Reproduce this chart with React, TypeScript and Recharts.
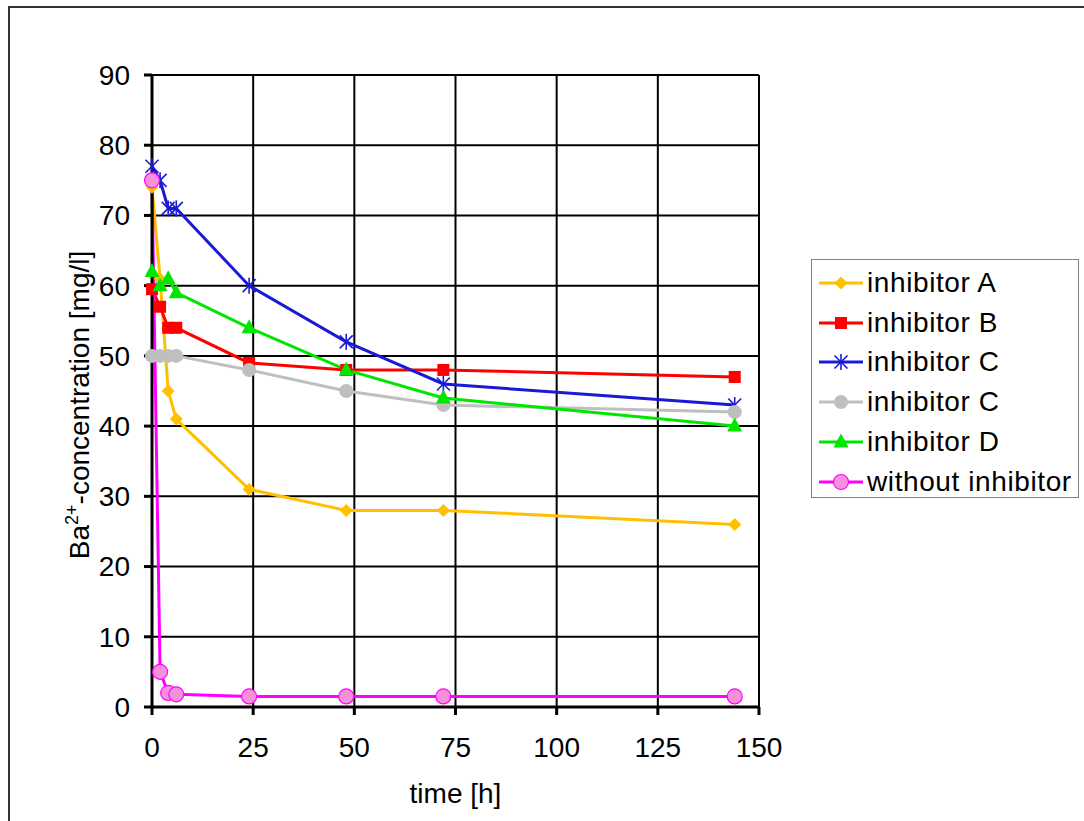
import React from "react";
import { CartesianGrid, Legend, Line, LineChart, XAxis, YAxis } from "recharts";

// Zeitpunkte [h] und Ba2+-Konzentrationen [mg/l] je Serie
const times = [0, 2, 4, 6, 24, 48, 72, 144];
const inhibitorA = [74, 61, 45, 41, 31, 28, 28, 26];
const inhibitorB = [59.5, 57, 54, 54, 49, 48, 48, 47];
const inhibitorC1 = [77, 75, 71, 71, 60, 52, 46, 43];
const inhibitorC2 = [50, 50, 50, 50, 48, 45, 43, 42];
const inhibitorD = [62, 60, 61, 59, 54, 48, 44, 40];
const withoutInhibitor = [75, 5, 2, 1.8, 1.5, 1.5, 1.5, 1.5];

const xTicks = [0, 25, 50, 75, 100, 125, 150];
const yTicks = [0, 10, 20, 30, 40, 50, 60, 70, 80, 90];

const data = times.map((t, i) => ({
  t,
  a: inhibitorA[i],
  b: inhibitorB[i],
  c1: inhibitorC1[i],
  c2: inhibitorC2[i],
  d: inhibitorD[i],
  w: withoutInhibitor[i],
}));

type Mark = "diamond" | "square" | "star" | "circle" | "triangle" | "pink";

const series: { key: string; name: string; color: string; mark: Mark }[] = [
  { key: "a", name: "inhibitor A", color: "#FFC000", mark: "diamond" },
  { key: "b", name: "inhibitor B", color: "#FF0000", mark: "square" },
  { key: "c1", name: "inhibitor C", color: "#1A1AD6", mark: "star" },
  { key: "c2", name: "inhibitor C", color: "#BFBFBF", mark: "circle" },
  { key: "d", name: "inhibitor D", color: "#00E600", mark: "triangle" },
  { key: "w", name: "without inhibitor", color: "#FF00FF", mark: "pink" },
];

const FONT = "'Liberation Sans', Arial, sans-serif";
const FS = 28;

function Marker({ mark, color, x, y }: { mark: Mark; color: string; x: number; y: number }) {
  switch (mark) {
    case "diamond":
      return <path d={`M${x},${y - 6.5}L${x + 6.5},${y}L${x},${y + 6.5}L${x - 6.5},${y}Z`} fill={color} />;
    case "square":
      return <rect x={x - 6} y={y - 6} width={12} height={12} fill={color} />;
    case "star":
      return (
        <g stroke={color} strokeWidth={1.6}>
          <line x1={x - 6.5} y1={y - 6.5} x2={x + 6.5} y2={y + 6.5} />
          <line x1={x - 6.5} y1={y + 6.5} x2={x + 6.5} y2={y - 6.5} />
          <line x1={x} y1={y - 8} x2={x} y2={y + 8} />
        </g>
      );
    case "circle":
      return <circle cx={x} cy={y} r={7} fill={color} />;
    case "triangle":
      return <path d={`M${x},${y - 8.5}L${x + 7.5},${y + 5.5}L${x - 7.5},${y + 5.5}Z`} fill={color} />;
    case "pink":
      return <circle cx={x} cy={y} r={7.5} fill="#F690DA" stroke={color} strokeWidth={1.2} />;
  }
}

function LegendBox() {
  return (
    <div
      style={{
        width: 268,
        height: 239,
        border: "1px solid #808080",
        background: "#fff",
        boxSizing: "border-box",
        paddingTop: 3,
        fontFamily: FONT,
        fontSize: FS,
        color: "#000",
      }}
    >
      {series.map((s) => (
        <div key={s.key} style={{ display: "flex", alignItems: "center", height: 39.8 }}>
          <svg width={50} height={20} style={{ marginLeft: 5 }}>
            <line x1={2} y1={10} x2={46} y2={10} stroke={s.color} strokeWidth={3} />
            <Marker mark={s.mark} color={s.color} x={24} y={10} />
          </svg>
          <span style={{ whiteSpace: "nowrap", letterSpacing: 0.6 }}>{s.name}</span>
        </div>
      ))}
    </div>
  );
}

function YLabel({ viewBox }: any) {
  const cx = viewBox ? viewBox.x - 3 : 89;
  const cy = viewBox ? viewBox.y + viewBox.height / 2 + 14 : 405;
  return (
    <text
      x={cx}
      y={cy}
      transform={`rotate(-90, ${cx}, ${cy})`}
      textAnchor="middle"
      fontFamily={FONT}
      fontSize={FS}
      fill="#000"
    >
      <tspan>Ba</tspan>
      <tspan dy={-11} fontSize={18}>2+</tspan>
      <tspan dy={11}>-concentration [mg/l]</tspan>
    </text>
  );
}

export default function App() {
  return (
    <div
      style={{
        position: "fixed",
        left: 0,
        top: 0,
        width: 1084,
        height: 821,
        overflow: "hidden",
        background: "#fff",
      }}
    >
      <div
        style={{
          position: "absolute",
          left: 8,
          top: 6,
          width: 1120,
          height: 860,
          border: "2px solid #333",
        }}
      />
      <div style={{ position: "absolute", left: 0, top: 0 }}>
        <LineChart width={1084} height={821} data={data} margin={{ top: 75, right: 325, bottom: 84, left: 92 }}>
          <CartesianGrid stroke="#000" strokeWidth={2} horizontalValues={yTicks} verticalValues={xTicks} />
          <XAxis
            type="number"
            dataKey="t"
            domain={[0, 150]}
            ticks={xTicks}
            interval={0}
            height={30}
            axisLine={{ stroke: "#000", strokeWidth: 3 }}
            tickLine={{ stroke: "#000", strokeWidth: 3 }}
            tickSize={8}
            tickMargin={22}
            tick={{ fill: "#000", fontSize: FS, fontFamily: FONT }}
            label={{ value: "time [h]", position: "insideBottom", offset: -66, fill: "#000", fontSize: FS, fontFamily: FONT }}
          />
          <YAxis
            type="number"
            domain={[0, 90]}
            ticks={yTicks}
            interval={0}
            width={60}
            axisLine={{ stroke: "#000", strokeWidth: 3 }}
            tickLine={{ stroke: "#000", strokeWidth: 3 }}
            tickSize={8}
            tickMargin={14}
            tick={{ fill: "#000", fontSize: FS, fontFamily: FONT }}
            label={<YLabel />}
          />
          <Legend
            layout="horizontal"
            verticalAlign="middle"
            align="center"
            wrapperStyle={{ position: "absolute", left: 811, top: 259, width: 268, height: 239 }}
            content={() => <LegendBox />}
          />
          {series.map((s) => (
            <Line
              key={s.key}
              type="linear"
              dataKey={s.key}
              name={s.name}
              stroke={s.color}
              strokeWidth={3}
              isAnimationActive={false}
              dot={(p: any) => <Marker key={`${s.key}-${p.index}`} mark={s.mark} color={s.color} x={p.cx} y={p.cy} />}
              activeDot={false}
            />
          ))}
        </LineChart>
      </div>
    </div>
  );
}
